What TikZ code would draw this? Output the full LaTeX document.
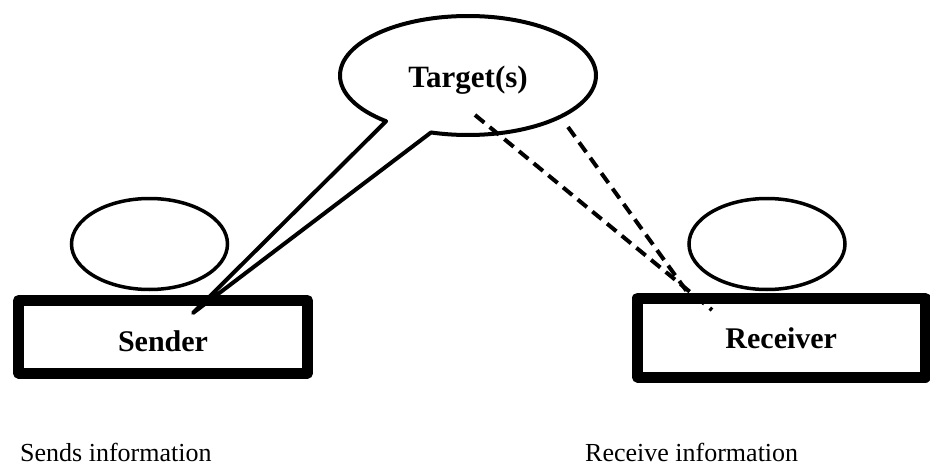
\documentclass[tikz,border=0pt]{standalone}
\usepackage{fontspec}
\setmainfont{Liberation Serif}
\usetikzlibrary{shapes.geometric,shapes.callouts}
\tikzset{
  headbox/.style={ellipse, draw, line width=3.5pt, inner sep=0pt, minimum width=156pt, minimum height=91pt},
  rolebox/.style={rectangle, draw, fill=white, line width=11pt, line join=round, inner sep=0pt, outer sep=0pt,
                  font=\bfseries\fontsize{30}{30}\selectfont, text depth=0pt},
  bubble/.style={ellipse callout, draw, fill=white, line width=4pt, line join=round, inner sep=0pt,
                 minimum width=256pt, minimum height=119pt, callout pointer arc=23,
                 font=\bfseries\fontsize{31}{31}\selectfont, text height=23pt, text depth=0pt},
  dashline/.style={line width=4pt, dash pattern=on 12pt off 7pt},
  caption/.style={anchor=base west, inner sep=0pt, font=\fontsize{26}{26}\selectfont}
}
\begin{document}
\begin{tikzpicture}[x=1pt,y=-1pt]
\useasboundingbox (0,0) rectangle (930,466);
% heads
\node[headbox] (senderhead) at (149.5,244) {};
\node[headbox] (receiverhead) at (767,244) {};
% boxes
\node[rolebox, minimum width=289pt, minimum height=72.5pt, text height=28.5pt] (sender) at (163,336.75) {Sender};
\node[rolebox, minimum width=287.5pt, minimum height=79pt, text height=21pt] (receiver) at (781.25,337.5) {Receiver};
% speech bubble
\coordinate (tip) at (193,313);
\node[bubble, callout absolute pointer={(tip)}] (target) at (468,75.5) {Target(s)};
% dashed links
\coordinate (dA1) at (475,115);
\coordinate (dA2) at (712,310);
\coordinate (dB1) at (568,127);
\coordinate (dB2) at (688,293);
\draw[dashline] (dA1) -- (dA2);
\draw[dashline] (dB1) -- (dB2);
% captions
\node[caption] (sendcap) at (20,461.5) {Sends information};
\node[caption] (recvcap) at (585,461.5) {Receive information};
\end{tikzpicture}
\end{document}
